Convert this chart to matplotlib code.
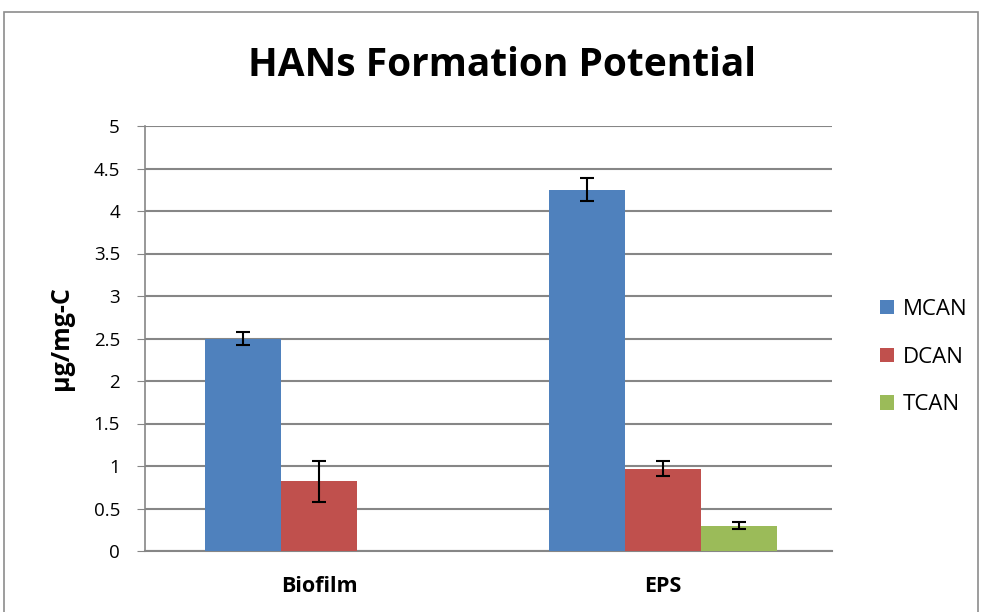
import matplotlib
matplotlib.use("Agg")
import matplotlib.pyplot as plt
import numpy as np
from matplotlib.patches import Rectangle

plt.rcParams['font.family'] = ['Open Sans', 'DejaVu Sans']

# donnees
categories = ["Biofilm", "EPS"]
series = ["MCAN", "DCAN", "TCAN"]
valeurs = {
    "MCAN": [2.50, 4.25],
    "DCAN": [0.82, 0.97],
    "TCAN": [0.005, 0.30],
}
erreurs = {
    "MCAN": [0.08, 0.135],
    "DCAN": [0.24, 0.09],
    "TCAN": [0.0, 0.045],
}
couleurs = {"MCAN": "#4F81BD", "DCAN": "#C0504D", "TCAN": "#9BBB59"}
yticks = [0, 0.5, 1, 1.5, 2, 2.5, 3, 3.5, 4, 4.5, 5]

fig = plt.figure(figsize=(9.82, 6.12), dpi=100)
# cadre gris du graphique
fig.patches.append(Rectangle((4 / 982, -0.1), 974 / 982, 1.1 - 12 / 612,
                             transform=fig.transFigure, fill=False,
                             edgecolor="#8C8C8C", linewidth=1.2))

ax = fig.add_axes([145 / 982, 1 - 551 / 612, 687 / 982, 425 / 612])

x = np.arange(len(categories))
w = 0.221
for i, s in enumerate(series):
    pos = x + (i - 1) * w
    ax.bar(pos, valeurs[s], width=w, color=couleurs[s], label=s, zorder=3,
           edgecolor="none")
    err = erreurs[s]
    for p, v, e in zip(pos, valeurs[s], err):
        if e > 0:
            ax.errorbar(p, v, yerr=e, fmt="none", ecolor="black",
                        elinewidth=1.5, capsize=5, capthick=1.5, zorder=4)

ax.set_xlim(-0.506, 1.491)
ax.set_ylim(0, 5)
ax.set_yticks(yticks)
ax.set_yticklabels([("%g" % t) for t in yticks], fontsize=13.5)
ax.set_xticks(x)
ax.set_xticklabels(categories, fontsize=15.5, fontweight="bold")
ax.yaxis.grid(True, color="#868686", linewidth=1.5, zorder=0)
ax.set_axisbelow(True)
for sp in ["top", "right"]:
    ax.spines[sp].set_visible(False)
ax.spines["left"].set_color("#868686")
ax.spines["bottom"].set_color("#868686")
ax.spines["left"].set_linewidth(1.2)
ax.spines["bottom"].set_linewidth(1.5)
ax.tick_params(axis="y", length=6, color="#868686", pad=12)
ax.tick_params(axis="x", length=0, pad=18)
ax.set_ylabel("µg/mg-C", fontsize=18, fontweight="bold", labelpad=14)

fig.text(0.511, 1 - 65 / 612, "HANs Formation Potential", fontsize=28,
         fontweight="bold", ha="center", va="center")

ax.legend(loc="center left", bbox_to_anchor=(1.041, 0.456), frameon=False,
          fontsize=16, handlelength=0.63, handleheight=0.63, labelspacing=1.2,
          handletextpad=0.4)

fig.savefig("out.png", dpi=100)
